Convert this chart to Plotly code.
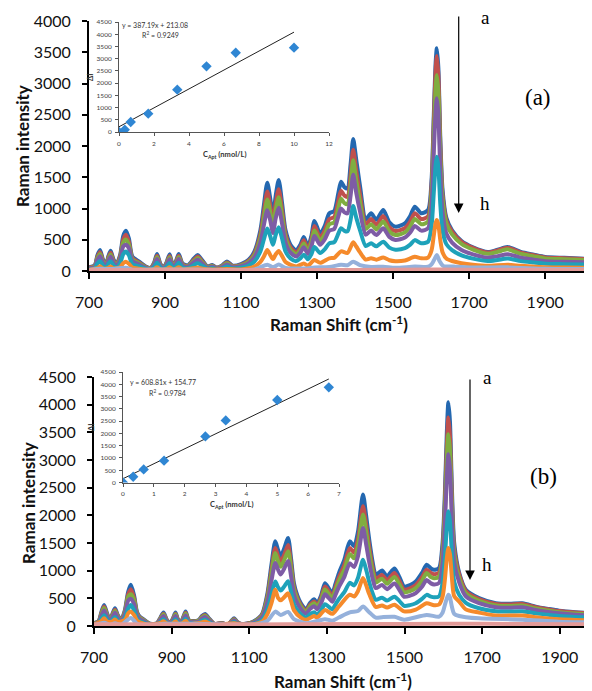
import plotly.graph_objects as go

# page has an 8px body margin, so the figure is drawn at (8, 8) in the window
OFF = 8
W, H = 592 - OFF, 691 - OFF

# ---------------- Panel (a) spectra (curves a..h, top to bottom) ----------------
A_wn = [700,715,722,729,737,745,751,757,764,772, 782,790,797,805,814,832,850,862,871,879,
        888,897,904,912,920,928,936,946,960,976, 986,998,1012,1024,1036,1050,1063,1078,1100,1120,
        1135,1151,1160,1169,1177,1184,1191,1199,1208,1217, 1230,1245,1256,1265,1276,1285,1293,1308,1320,1332,
        1345,1356,1363,1372,1380,1388,1395,1403,1413,1428, 1442,1456,1474,1490,1506,1531,1545,1557,1574,1592,
        1601,1607,1612,1615,1619,1624,1630,1640,1655,1680, 1710,1749,1775,1801,1836,1870,1900,1950,2005]
A_a = [60,90,250,336,180,110,240,325,190,110, 260,560,645,520,230,150,70,50,130,272,
       110,60,140,267,110,150,272,120,90,200, 256,170,70,96,55,90,150,85,110,180,
       310,659,1050,1414,1150,870,1200,1456,1080,651, 420,330,420,544,390,560,800,597,720,923,
       960,1250,1429,1340,1320,1700,2112,1780,1355,830, 923,821,976,780,710,763,880,1029,923,976,
       1450,2500,3350,3563,3250,2150,1300,850,650,480, 380,304,340,384,304,260,224,210,197]
A_b = [54,81,225,302,162,99,216,292,171,99, 234,504,580,468,207,135,63,45,117,245,
       99,54,126,240,99,135,245,108,81,180, 230,153,63,86,50,81,135,77,99,162,
       279,593,945,1273,1035,783,1080,1310,972,586, 378,297,378,490,351,504,720,537,648,831,
       864,1125,1286,1206,1188,1530,1940,1602,1220,747, 831,739,878,702,639,687,792,926,831,878,
       1350,2380,3230,3440,3130,2040,1220,810,630,466, 369,295,330,372,295,252,217,204,191]
A_c = [49,73,203,272,146,89,194,263,154,89, 211,454,505,421,186,122,57,41,105,220,
       89,49,113,216,89,122,220,97,73,162, 207,138,57,78,45,73,122,69,89,146,
       251,534,850,1145,932,705,972,1179,875,527, 340,267,340,441,316,454,648,484,583,748,
       778,1013,1157,1085,1069,1377,1774,1442,1098,672, 748,665,791,632,575,618,713,833,748,791,
       1230,2150,2930,3136,2860,1870,1140,760,585,432, 342,274,306,346,274,234,202,189,177]
A_d = [42,63,175,235,126,77,168,228,133,77, 182,392,420,364,161,105,49,35,91,190,
       77,42,98,187,77,105,190,84,63,140, 179,119,49,67,39,63,105,60,77,126,
       217,461,735,970,805,609,840,1010,756,456, 294,231,294,381,273,392,560,418,504,646,
       672,875,1000,938,924,1200,1540,1250,950,581, 646,575,683,546,497,534,616,720,646,683,
       1060,1900,2580,2763,2500,1620,950,600,455,336, 266,213,238,269,213,182,157,147,138]
A_e = [29,43,120,161,86,53,115,156,91,53, 125,269,310,250,110,72,34,24,62,131,
       53,29,67,128,53,72,131,58,43,96, 123,82,34,46,26,43,72,41,53,86,
       149,316,504,679,552,418,576,699,518,312, 202,158,202,261,187,269,384,287,346,443,
       461,600,686,643,634,816,1040,854,650,398, 443,394,468,374,341,366,422,494,443,468,
       720,1260,1710,1829,1660,1080,650,430,335,250, 198,158,177,200,158,135,117,109,102]
A_f_wn = [700,722,729,737,751,757,764,782,790,797, 805,814,832,850,871,879,888,904,912,920,
          928,936,946,976,986,998,1024,1063,1100,1135, 1151,1160,1169,1177,1184,1191,1199,1208,1217,1245,
          1265,1276,1293,1308,1332,1345,1363,1380,1395,1403, 1413,1428,1442,1456,1474,1490,1506,1531,1557,1574,
          1592,1601,1607,1612,1615,1619,1624,1630,1640,1655, 1680,1710,1749,1801,1836,1900,1950,2005]
A_f = [18,45,74,40,50,72,40,60,125,149, 115,55,35,20,30,60,28,32,59,26,
       33,60,27,44,56,37,24,33,25,70, 145,231,336,253,190,264,320,238,143,73,
       120,86,176,131,203,211,314,290,460,392, 298,183,203,181,215,172,156,168,226,203,
       215,330,570,770,816,745,495,300,200,160, 125,100,82,100,82,60,57,53]
A_g_wn = [700,729,757,797,814,879,912,936,986,1050, 1135,1169,1184,1199,1217,1265,1293,1332,1363,1380,
          1395,1413,1442,1474,1506,1557,1592,1601,1608,1615, 1622,1632,1660,1710,1801,1900,2005]
A_g = [15,35,32,53,22,25,24,25,24,15, 25,100,62,102,50,40,56,65,100,92,
       149,95,65,68,50,72,68,105,180,256, 160,80,70,57,58,34,30]
A_h_wn = [700,1000,1400,1615,1800,2005]
A_h = [16,15,17,22,18,16]

# ---------------- Panel (b) spectra ----------------
B_wn = [700,712,719,726,734,741,748,754,761,770, 780,788,795,803,811,818,828,845,862,871,
        879,887,896,903,910,917,925,930,936,944, 955,970,978,986,996,1010,1030,1045,1055,1061,
        1068,1080,1108,1125,1134,1147,1157,1167,1174,1181, 1190,1200,1208,1215,1224,1233,1246,1257,1267,1275,
        1285,1295,1305,1314,1322,1331,1345,1359,1370,1380, 1393,1401,1409,1418,1426,1442,1455,1474,1487,1499,
        1514,1529,1545,1557,1568,1576,1589,1598,1604,1609, 1613,1617,1622,1628,1641,1658,1692,1735,1770,1804,
        1838,1870,1898,1940,1985]
B_a = [50,90,250,381,220,109,230,321,200,109, 300,620,744,560,250,169,120,40,50,150,
       242,120,50,130,242,110,80,160,260,110, 90,110,180,218,140,40,55,25,100,139,
       80,35,70,150,230,593,1100,1530,1380,1258, 1400,1591,1200,775,550,412,300,420,484,410,
       550,775,680,593,760,956,1200,1530,1440,1700, 2378,2000,1561,1150,926,1004,900,1040,880,714,
       740,805,960,1107,1040,1016,1050,1500,2400,3500, 4042,3700,2500,1500,956,653,503,412,400,412,
       351,310,278,250,230]
B_b = [46,83,230,351,202,100,212,295,184,100, 276,570,665,515,230,155,110,37,46,138,
       223,110,46,120,223,101,74,147,239,101, 83,101,166,201,129,37,51,23,92,128,
       74,32,64,138,212,546,1012,1408,1270,1157, 1288,1464,1104,713,506,379,276,386,445,377,
       506,713,626,546,699,880,1104,1408,1325,1564, 2166,1840,1436,1058,852,924,828,957,810,657,
       681,741,883,1016,957,935,966,1390,2230,3255, 3769,3440,2320,1400,927,633,488,400,388,400,
       340,301,270,243,223]
B_c = [43,77,213,324,187,93,196,273,170,93, 255,527,575,476,213,144,102,34,43,128,
       206,102,43,111,206,94,68,136,221,94, 77,94,153,185,119,34,47,21,85,118,
       68,30,60,128,196,504,935,1319,1173,1069, 1190,1352,1020,659,468,350,255,357,411,349,
       468,659,578,504,646,813,1020,1301,1224,1445, 2015,1700,1327,978,787,853,765,884,748,607,
       629,684,816,956,884,864,893,1280,2060,3010, 3467,3180,2150,1290,860,588,453,371,360,371,
       316,279,250,225,207]
B_d = [37,67,185,282,163,81,170,238,148,81, 222,459,490,400,185,125,89,30,37,111,
       179,89,37,96,179,81,59,118,192,81, 67,81,133,161,104,30,41,19,74,103,
       59,26,52,111,170,439,814,1138,1021,931, 1036,1177,888,574,407,305,222,311,358,303,
       407,574,503,439,562,707,888,1132,1066,1258, 1773,1480,1155,851,685,743,666,770,651,528,
       548,596,710,830,770,752,777,1130,1830,2690, 3104,2850,1925,1160,784,535,412,338,328,338,
       288,254,230,205,189]
B_e = [26,46,128,194,112,56,117,164,102,56, 153,316,381,286,128,86,61,20,26,77,
       123,61,26,66,123,56,41,82,133,56, 46,56,92,111,71,20,28,13,51,71,
       41,18,36,77,117,302,561,805,704,642, 714,811,612,395,281,210,153,214,247,209,
       281,395,347,302,388,488,612,780,734,867, 1198,1020,796,587,472,512,459,530,449,364,
       377,411,490,563,530,518,536,780,1240,1800, 2075,1900,1300,800,560,420,321,268,260,268,
       228,202,182,163,150]
B_f_wn = [700,719,726,734,748,754,761,780,788,795, 803,811,818,845,871,879,887,903,910,917,
          930,936,944,978,986,996,1010,1061,1080,1108, 1134,1147,1157,1167,1174,1181,1190,1200,1208,1215,
          1233,1246,1267,1275,1295,1314,1331,1359,1370,1380, 1393,1401,1409,1426,1442,1455,1474,1499,1529,1557,
          1576,1589,1598,1604,1609,1613,1617,1622,1628,1641, 1658,1692,1735,1804,1838,1898,1940,1985]
B_f = [25,90,140,80,85,118,75,110,230,260, 200,95,65,18,55,88,45,48,88,40,
       60,96,41,66,80,52,18,50,15,28, 85,220,410,653,510,465,520,590,445,287,
       152,111,179,152,287,220,354,566,533,629, 866,740,578,343,371,333,385,264,298,412,
       376,389,530,840,1230,1410,1300,880,540,440, 300,242,190,190,160,121,110,100]
B_g_wn = [700,726,741,754,770,795,811,845,879,910, 936,986,1061,1108,1147,1167,1181,1200,1215,1246,
          1267,1295,1314,1331,1359,1380,1393,1409,1426,1442, 1474,1499,1557,1589,1598,1604,1609,1613,1617,1622,
          1628,1641,1658,1692,1804,1898,1985]
B_g = [12,60,20,50,20,145,40,10,40,40, 42,35,22,15,95,260,200,255,124,50,
       78,124,95,153,245,272,351,250,150,160, 166,114,200,168,240,380,500,563,520,350,
       220,180,160,139,115,79,65]
B_h_wn = [700,1000,1400,1613,1800,1985]
B_h = [30,28,34,42,36,30]

# ---------------- Insets (calibration) ----------------
INA_conc = [0, 0.33, 0.67, 1.67, 3.33, 5, 6.67, 10]
INA_int = [0, 95, 409, 750, 1732, 2686, 3245, 3450]
INA_slope, INA_icept, INA_xmax = 387.19, 213.08, 10
INB_conc = [0, 0.33, 0.67, 1.33, 2.67, 3.33, 5, 6.67]
INB_int = [0, 233, 534, 890, 1877, 2529, 3358, 3875]
INB_slope, INB_icept, INB_xmax = 608.81, 154.77, 6.67

X_TICKS = [700, 900, 1100, 1300, 1500, 1700, 1900]
COLORS = ['#2468B0', '#C0504D', '#80AD40', '#7E5CA5', '#1EA2BA', '#F58A2B', '#95B1DB', '#E39A98']

def fx(px):
    # window pixel -> paper fraction
    return (px - OFF) / W

def fy(py):
    return 1 - (py - OFF) / H

fig = go.Figure()

A_series = [(A_wn, A_a), (A_wn, A_b), (A_wn, A_c), (A_wn, A_d), (A_wn, A_e),
            (A_f_wn, A_f), (A_g_wn, A_g), (A_h_wn, A_h)]
B_series = [(B_wn, B_a), (B_wn, B_b), (B_wn, B_c), (B_wn, B_d), (B_wn, B_e),
            (B_f_wn, B_f), (B_g_wn, B_g), (B_h_wn, B_h)]

for (xs, ys), c in zip(A_series, COLORS):
    fig.add_trace(go.Scatter(x=xs, y=ys, mode='lines', xaxis='x', yaxis='y',
                             line=dict(color=c, width=4, shape='spline', smoothing=0.7),
                             hoverinfo='skip'))
for (xs, ys), c in zip(B_series, COLORS):
    fig.add_trace(go.Scatter(x=xs, y=ys, mode='lines', xaxis='x2', yaxis='y2',
                             line=dict(color=c, width=4, shape='spline', smoothing=0.7),
                             hoverinfo='skip'))

# insets
MARK = '#2F86D3'
for conc, inten, slope, icept, xmax, xa, ya in [
        (INA_conc, INA_int, INA_slope, INA_icept, INA_xmax, 'x3', 'y3'),
        (INB_conc, INB_int, INB_slope, INB_icept, INB_xmax, 'x4', 'y4')]:
    fx_line = [0, xmax]
    fy_line = [icept, slope * xmax + icept]
    fig.add_trace(go.Scatter(x=fx_line, y=fy_line, mode='lines', xaxis=xa, yaxis=ya,
                             line=dict(color='#222222', width=1), hoverinfo='skip'))
    fig.add_trace(go.Scatter(x=conc, y=inten, mode='markers', xaxis=xa, yaxis=ya,
                             marker=dict(symbol='diamond', size=8, color=MARK),
                             hoverinfo='skip'))

TICKFONT = dict(family='Lato', size=16, color='#111111')
main_x = dict(showline=True, linecolor='black', linewidth=2, ticks='outside', ticklen=6,
              tickwidth=2, tickcolor='black', tickvals=X_TICKS, tickfont=TICKFONT,
              showgrid=False, zeroline=False, layer='below traces', ticklabelstandoff=10,
              automargin=False)
main_y = dict(showline=True, linecolor='black', linewidth=2, ticks='outside', ticklen=5,
              tickwidth=2, tickcolor='black', dtick=500, tickfont=TICKFONT,
              showgrid=False, zeroline=False, ticklabelstandoff=8, automargin=False)
INFONT = dict(family='Lato', size=6.5, color='#404040')
in_x = dict(showline=True, linecolor='#555555', linewidth=1, ticks='outside', ticklen=3,
            tickwidth=1, tickcolor='#555555', tickfont=INFONT, showgrid=False, zeroline=False,
            dtick=2, ticklabelstandoff=2, automargin=False)
in_y = dict(showline=True, linecolor='#555555', linewidth=1, ticks='outside', ticklen=3,
            tickwidth=1, tickcolor='#555555', tickfont=INFONT, showgrid=False, zeroline=False,
            dtick=500, ticklabelstandoff=2, automargin=False)

fig.update_layout(
    width=W, height=H, autosize=False,
    margin=dict(l=0, r=0, t=0, b=0, pad=0, autoexpand=False),
    paper_bgcolor='white', plot_bgcolor='rgba(0,0,0,0)', showlegend=False,
    xaxis=dict(main_x, domain=[fx(89), fx(587)], range=[700, 2010], anchor='y'),
    yaxis=dict(main_y, domain=[fy(271), fy(21)], range=[0, 4000], anchor='x'),
    xaxis2=dict(main_x, domain=[fx(94), 1.0], range=[700, 1983], anchor='y2'),
    yaxis2=dict(main_y, domain=[fy(626), fy(377)], range=[0, 4500], anchor='x2'),
    xaxis3=dict(in_x, domain=[fx(119), fx(329)], range=[0, 12], anchor='y3'),
    yaxis3=dict(in_y, domain=[fy(132), fy(22)], range=[0, 4500], anchor='x3'),
    xaxis4=dict(in_x, domain=[fx(123), fx(339)], range=[0, 7], dtick=1, anchor='y4'),
    yaxis4=dict(in_y, domain=[fy(482.5), fy(372)], range=[0, 4500], anchor='x4'),
)

TITLEFONT = dict(family='Lato', size=17, color='#111111', weight='bold')
SERIF = 'Liberation Serif'
ann = []
def txt(text, px, py, font, angle=0):
    ann.append(dict(text=text, x=fx(px), y=fy(py), xref='paper', yref='paper',
                    showarrow=False, font=font, textangle=angle,
                    xanchor='center', yanchor='middle'))

txt('Raman intensity', 22, 146, TITLEFONT, -90)
txt('Raman intensity', 28, 503, TITLEFONT, -90)
txt('Raman Shift (cm<sup>-1</sup>)', 339, 323, TITLEFONT)
txt('Raman Shift (cm<sup>-1</sup>)', 343, 680, TITLEFONT)

LET = dict(family=SERIF, size=19, color='black')
PAN = dict(family=SERIF, size=23, color='black')
txt('a', 485, 17, LET)
txt('h', 485, 203, LET)
txt('(a)', 538, 97, PAN)
txt('a', 487, 377, LET)
txt('h', 487, 564, LET)
txt('(b)', 543, 476, PAN)

SMALL = dict(family='Lato', size=7, color='#333333')
SMALLB = dict(family='Lato', size=7.5, color='#333333', weight='bold')
txt('y = 387.19x + 213.08', 155, 25, SMALL)
txt('R<sup>2</sup> = 0.9249', 160, 35, SMALL)
txt('y = 608.81x + 154.77', 163, 382, SMALL)
txt('R<sup>2</sup> = 0.9784', 167, 392, SMALL)
txt('C<sub>Apt</sub> (nmol/L)', 225, 155, SMALLB)
txt('C<sub>Apt</sub> (nmol/L)', 232, 505, SMALLB)
txt('ΔI', 91, 78, SMALLB, -90)
txt('ΔI', 91, 428, SMALLB, -90)

for xpx, top, bot in [(458.7, 15, 213), (470, 378, 580)]:
    ann.append(dict(x=fx(xpx), y=fy(bot), ax=0, ay=-(bot - top), xref='paper', yref='paper',
                    axref='pixel', ayref='pixel', text='', showarrow=True, arrowhead=2,
                    arrowsize=1.6, arrowwidth=1.2, arrowcolor='black'))

fig.update_layout(annotations=ann)
fig.write_html('out.html')
